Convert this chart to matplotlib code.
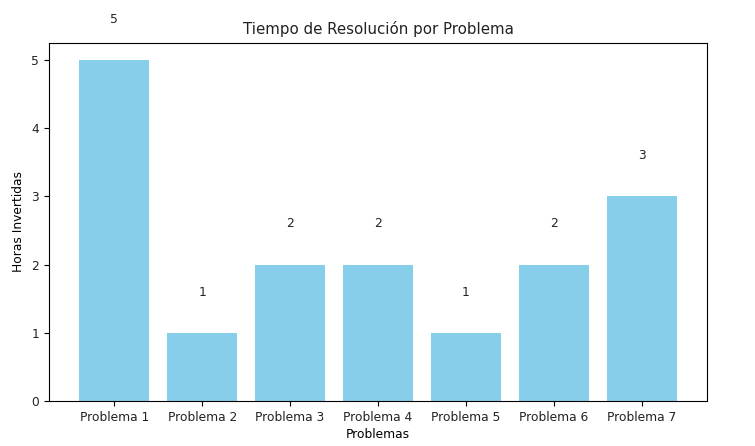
import matplotlib.pyplot as plt

problemas = ['Problema 1', 'Problema 2', 'Problema 3', 'Problema 4',
             'Problema 5', 'Problema 6', 'Problema 7']
horas = [5, 1, 2, 2, 1, 2, 3]

plt.rcParams['font.size'] = 8.8
plt.rcParams['text.color'] = '#222222'
plt.rcParams['xtick.labelcolor'] = '#222222'
plt.rcParams['ytick.labelcolor'] = '#222222'

fig = plt.figure(figsize=(7.55, 4.46), dpi=100)
ax = fig.add_axes([0.065, 0.101, 0.8715, 0.803])
ax.bar(problemas, horas, color='skyblue')

for i, h in enumerate(horas):
    ax.text(i, h + 0.5, str(h), ha='center', va='bottom')

ax.set_title('Tiempo de Resolución por Problema', fontsize=10.8)
ax.set_xlabel('Problemas', fontsize=8.8, labelpad=3)
ax.set_ylabel('Horas Invertidas', fontsize=8.8, labelpad=5)

fig.savefig('out.png', dpi=100)
